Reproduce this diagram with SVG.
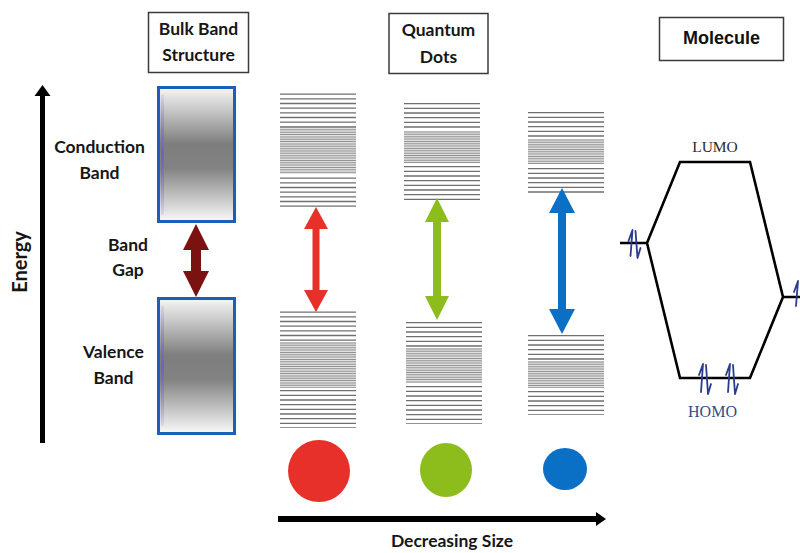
<svg xmlns="http://www.w3.org/2000/svg" width="800" height="553" viewBox="0 0 800 553">
<defs>
<linearGradient id="band" x1="0" y1="0" x2="0" y2="1">
<stop offset="0" stop-color="#f6f6f6"/>
<stop offset="0.18" stop-color="#c4c4c4"/>
<stop offset="0.42" stop-color="#7e7e7e"/>
<stop offset="0.6" stop-color="#828282"/>
<stop offset="0.85" stop-color="#cdcdcd"/>
<stop offset="1" stop-color="#fafafa"/>
</linearGradient>
<linearGradient id="strip" x1="0" y1="0" x2="0" y2="1">
<stop offset="0" stop-color="#8a80d8" stop-opacity="0.15"/>
<stop offset="0.5" stop-color="#6a5cc8" stop-opacity="0.8"/>
<stop offset="1" stop-color="#8a80d8" stop-opacity="0.15"/>
</linearGradient>
</defs>
<style>
.lbl{font-family:Lato,"Open Sans","DejaVu Sans",sans-serif;font-weight:700;font-size:17.5px;fill:#161616;text-anchor:middle}
.box{fill:#fff;stroke:#3a3a3a;stroke-width:1.5}
.bandbox{fill:url(#band);stroke:#1c5fb8;stroke-width:3}
.sp{stroke:#707070;stroke-dasharray:1.3 3.37;fill:none}
.dn{stroke:#939393;stroke-dasharray:1 1.35;fill:none}
.dbg{fill:#e0e0e0}
.mo{fill:none;stroke:#000;stroke-width:2.6;stroke-linejoin:miter}
.el{fill:none;stroke:#2b3c8f;stroke-width:1.8;stroke-linecap:round;stroke-linejoin:round}
.serif{font-family:"Liberation Serif","Times New Roman",serif;font-size:15.5px;text-anchor:middle}
</style>

<g id="title-bulk">
<rect class="box" x="148.5" y="12.5" width="100" height="60"/>
<text class="lbl" x="198.5" y="35">Bulk Band</text>
<text class="lbl" x="198.5" y="61">Structure</text>
</g>
<g id="title-qd">
<rect class="box" x="389" y="13.5" width="99" height="60"/>
<text class="lbl" x="438.5" y="36">Quantum</text>
<text class="lbl" x="438.5" y="63">Dots</text>
</g>
<g id="title-molecule">
<rect class="box" x="659.5" y="17.5" width="124" height="43" stroke="#6a6a6a"/>
<text x="721.5" y="44" font-family="'Liberation Sans',Arial,sans-serif" font-weight="700" font-size="18px" fill="#111" text-anchor="middle">Molecule</text>
</g>

<g id="energy-axis">
<rect x="40" y="94" width="5" height="349" fill="#000"/>
<polygon points="42.5,85 50.5,96 34.5,96" fill="#000"/>
<text class="lbl" transform="translate(27,262) rotate(-90)" style="font-size:20px">Energy</text>
</g>

<g id="bulk-labels">
<text class="lbl" x="99.5" y="153">Conduction</text>
<text class="lbl" x="99.5" y="179">Band</text>
<text class="lbl" x="128" y="251">Band</text>
<text class="lbl" x="128" y="276">Gap</text>
<text class="lbl" x="113.5" y="358">Valence</text>
<text class="lbl" x="113.5" y="384">Band</text>
</g>

<g id="conduction-band">
<rect class="bandbox" x="158.5" y="87.5" width="76" height="134"/>
<rect x="161" y="95" width="3" height="120" fill="url(#strip)"/>
</g>
<g id="valence-band">
<rect class="bandbox" x="158.5" y="298.5" width="76" height="135"/>
<rect x="161" y="306" width="3" height="120" fill="url(#strip)"/>
</g>

<g id="qd-red-levels">
<rect class="dbg" x="280" y="126" width="76" height="48"/>
<line class="sp" x1="318" y1="93.5" x2="318" y2="127" stroke-width="76"/>
<line class="dn" x1="318" y1="127" x2="318" y2="174" stroke-width="76"/>
<line class="sp" x1="318" y1="177.5" x2="318" y2="207" stroke-width="76"/>
<rect class="dbg" x="280" y="342" width="76" height="46"/>
<line class="sp" x1="318" y1="311.5" x2="318" y2="342" stroke-width="76"/>
<line class="dn" x1="318" y1="342.5" x2="318" y2="388" stroke-width="76"/>
<line class="sp" x1="318" y1="390" x2="318" y2="428" stroke-width="76"/>
</g>
<g id="qd-green-levels">
<rect class="dbg" x="404" y="131" width="76" height="32"/>
<line class="sp" x1="442" y1="103" x2="442" y2="130" stroke-width="76"/>
<line class="dn" x1="442" y1="131.5" x2="442" y2="163" stroke-width="76"/>
<line class="sp" x1="442" y1="166" x2="442" y2="202" stroke-width="76"/>
<rect class="dbg" x="406" y="348" width="76" height="35"/>
<line class="sp" x1="444" y1="322" x2="444" y2="347" stroke-width="76"/>
<line class="dn" x1="444" y1="348.5" x2="444" y2="383" stroke-width="76"/>
<line class="sp" x1="444" y1="386" x2="444" y2="424" stroke-width="76"/>
</g>
<g id="qd-blue-levels">
<rect class="dbg" x="528" y="139" width="76" height="25"/>
<line class="sp" x1="566" y1="112" x2="566" y2="138" stroke-width="76"/>
<line class="dn" x1="566" y1="139.5" x2="566" y2="164" stroke-width="76"/>
<line class="sp" x1="566" y1="168" x2="566" y2="193" stroke-width="76"/>
<rect class="dbg" x="528" y="361" width="76" height="27"/>
<line class="sp" x1="566" y1="335" x2="566" y2="360" stroke-width="76"/>
<line class="dn" x1="566" y1="361.5" x2="566" y2="388" stroke-width="76"/>
<line class="sp" x1="566" y1="391" x2="566" y2="415" stroke-width="76"/>
</g>

<g id="gap-arrows">
<path d="M196,224 L209,250 L201,250 L201,271 L209,271 L196,297 L183,271 L191,271 L191,250 L183,250 Z" fill="#7a1212"/>
<path d="M316,207 L328,229 L319.5,229 L319.5,290 L328,290 L316,312 L304,290 L312.5,290 L312.5,229 L304,229 Z" fill="#e8302a"/>
<path d="M437,198 L449,222 L441,222 L441,296 L449,296 L437,320 L425,296 L433,296 L433,222 L425,222 Z" fill="#8cbd1c"/>
<path d="M562,188 L575,213 L566,213 L566,309 L575,309 L562,334 L549,309 L558,309 L558,213 L549,213 Z" fill="#0a70c6"/>
</g>

<g id="dots">
<ellipse cx="319" cy="471" rx="31" ry="31" fill="#e8302a"/>
<ellipse cx="446" cy="470" rx="26" ry="27" fill="#8cbd1c"/>
<ellipse cx="565" cy="469" rx="22" ry="21" fill="#0a70c6"/>
</g>

<g id="size-axis">
<rect x="278" y="516" width="320" height="6" fill="#000"/>
<polygon points="606,519 596,512 596,526" fill="#000"/>
<text class="lbl" x="452" y="547">Decreasing Size</text>
</g>

<g id="molecule-diagram">
<path class="mo" d="M620,243 H647 L680,162 H750 L783,297 H800 M647,243 L680,378 H750 L783,297"/>
<text class="serif" x="715" y="152" fill="#2a2a2a">LUMO</text>
<text class="serif" x="712.5" y="417" fill="#2a4d8f" style="font-size:16px">HOMO</text>
<g id="electrons">
<path class="el" d="M630.5,256 L632.5,230 L628.5,241"/>
<path class="el" d="M635.5,231 L637.5,258 L640.5,248"/>
<path class="el" d="M701,392 L703,364 L699,375"/>
<path class="el" d="M706,365 L708,394 L711,384"/>
<path class="el" d="M728,392 L730,364 L726,375"/>
<path class="el" d="M733,365 L735,394 L738,384"/>
<path class="el" d="M796,306 L798,281 L794,292"/>
</g>
</g>
</svg>
